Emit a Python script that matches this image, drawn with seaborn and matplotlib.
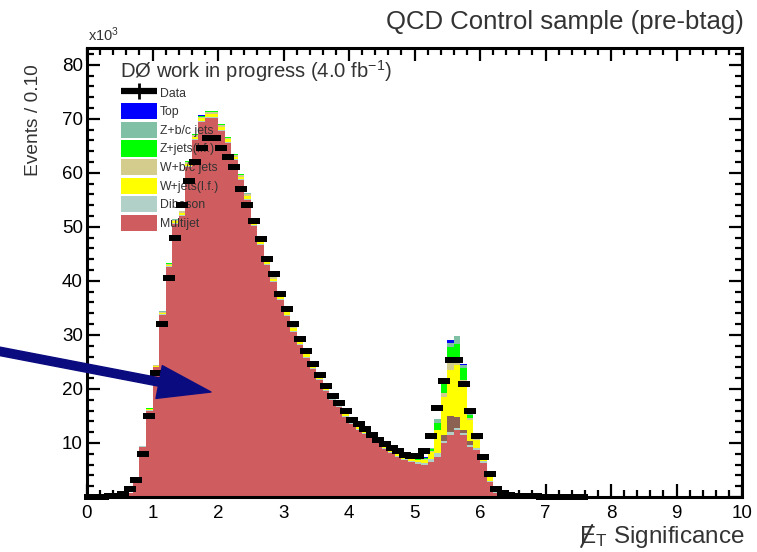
import numpy as np
import pandas as pd
import matplotlib
matplotlib.use("Agg")
import matplotlib.pyplot as plt
from matplotlib.patches import Rectangle
from matplotlib.lines import Line2D
from matplotlib.ticker import MultipleLocator
import seaborn as sns

# ---------------- data (values in units of 10^3 events per 0.1 bin) ----------------
# MC stacks: bins 0.0 .. 6.3 (64 bins of width 0.1)
mc_edges = [round(0.1 * i, 2) for i in range(65)]

multijet = [0, 0, 0, 0, 0.05, 0.2, 0.8, 2.6, 9.3, 16.0,
            24.0, 33.7, 42.6, 50.5, 52.0, 61.0, 66.0, 69.4, 70.2, 70.2,
            67.8, 65.5, 62.3, 58.6, 55.0, 50.2, 46.7, 43.0, 39.7, 36.5,
            33.5, 30.6, 28.2, 25.8, 23.7, 21.6, 19.6, 18.0, 16.6, 14.8,
            13.6, 12.4, 11.7, 10.9, 10.0, 8.9, 8.1, 7.4, 6.9, 6.5,
            6.1, 5.9, 6.5, 7.4, 10.0, 11.5, 12.4, 11.5, 9.3, 8.7,
            6.3, 2.8, 0.8, 0.2]
diboson = [0, 0, 0, 0, 0, 0, 0, 0, 0.05, 0.1,
           0.1, 0.1, 0.1, 0.2, 0.2, 0.2, 0.2, 0.2, 0.2, 0.2,
           0.2, 0.2, 0.2, 0.2, 0.2, 0.2, 0.2, 0.2, 0.2, 0.2,
           0.2, 0.2, 0.2, 0.2, 0.2, 0.2, 0.2, 0.2, 0.2, 0.2,
           0.2, 0.2, 0.2, 0.2, 0.2, 0.2, 0.2, 0.2, 0.2, 0.2,
           0.3, 0.4, 0.5, 0.7, 0.3, 0.5, 0.4, 0.4, 0.4, 0.3,
           0.3, 0.2, 0.1, 0]
mixed = [0, 0, 0, 0, 0, 0, 0, 0, 0, 0,
         0, 0, 0, 0, 0, 0, 0, 0, 0, 0,
         0, 0, 0, 0, 0, 0, 0, 0, 0, 0,
         0, 0, 0, 0, 0, 0, 0, 0, 0, 0,
         0, 0, 0, 0, 0, 0, 0, 0, 0, 0,
         0, 0, 0, 0, 1.2, 3.0, 2.0, 0.5, 0.6, 0,
         0, 0, 0, 0]
w_lf = [0, 0, 0, 0, 0, 0, 0.02, 0.05, 0.1, 0.15,
        0.2, 0.25, 0.3, 0.35, 0.4, 0.45, 0.5, 0.5, 0.5, 0.5,
        0.5, 0.5, 0.5, 0.5, 0.5, 0.5, 0.5, 0.5, 0.5, 0.45,
        0.45, 0.45, 0.4, 0.4, 0.4, 0.4, 0.4, 0.4, 0.4, 0.4,
        0.4, 0.4, 0.4, 0.4, 0.4, 0.4, 0.4, 0.4, 0.4, 0.4,
        0.4, 0.6, 1.3, 4.3, 7.1, 8.5, 9.7, 8.5, 4.0, 1.5,
        0.6, 0.8, 0.3, 0.1]
w_bc = [0, 0, 0, 0, 0, 0, 0, 0.02, 0.05, 0.1,
        0.1, 0.15, 0.2, 0.2, 0.25, 0.3, 0.3, 0.3, 0.3, 0.4,
        0.4, 0.3, 0.3, 0.3, 0.3, 0.3, 0.3, 0.3, 0.3, 0.3,
        0.3, 0.3, 0.3, 0.3, 0.2, 0.2, 0.2, 0.2, 0.2, 0.2,
        0.2, 0.2, 0.2, 0.2, 0.2, 0.2, 0.2, 0.2, 0.2, 0.2,
        0.1, 0.1, 0.2, 0.0, 0.6, 1.3, 0.9, 0.8, 0.4, 0.2,
        0.1, 0.1, 0, 0]
z_lf = [0, 0, 0, 0, 0, 0, 0, 0, 0.02, 0.05,
        0.05, 0.1, 0.1, 0.1, 0.1, 0.15, 0.15, 0.15, 0.15, 0.15,
        0.15, 0.15, 0.15, 0.15, 0.15, 0.15, 0.15, 0.15, 0.15, 0.15,
        0.15, 0.15, 0.15, 0.15, 0.15, 0.15, 0.15, 0.15, 0.15, 0.15,
        0.15, 0.15, 0.15, 0.15, 0.15, 0.15, 0.15, 0.15, 0.15, 0.2,
        0.2, 0.2, 0.3, 1.3, 1.8, 3.0, 3.0, 2.2, 0.5, 0.6,
        0.3, 0.3, 0, 0]
z_bc = [0, 0, 0, 0, 0, 0, 0, 0, 0, 0.02,
        0.02, 0.05, 0.05, 0.05, 0.05, 0.05, 0.05, 0.05, 0.05, 0.05,
        0.05, 0.05, 0.05, 0.05, 0.05, 0.05, 0.05, 0.05, 0.05, 0.05,
        0.05, 0.05, 0.05, 0.05, 0.05, 0.05, 0.05, 0.05, 0.05, 0.05,
        0.05, 0.05, 0.05, 0.05, 0.05, 0.05, 0.05, 0.05, 0.05, 0.1,
        0.1, 0.1, 0.2, 0.7, 0.2, 0.7, 1.4, 0.6, 0.2, 0.1,
        0.1, 0, 0, 0]
top = [0, 0, 0, 0, 0, 0, 0, 0, 0, 0,
       0, 0, 0, 0, 0, 0, 0.02, 0.02, 0.02, 0.02,
       0.02, 0.02, 0.02, 0.02, 0.02, 0.02, 0.02, 0.02, 0.02, 0.02,
       0.02, 0.02, 0.02, 0.02, 0.02, 0.02, 0.02, 0.02, 0.02, 0.02,
       0.02, 0.02, 0.02, 0.02, 0.02, 0.02, 0.02, 0.02, 0.02, 0.02,
       0.02, 0.02, 0.02, 0.1, 0.1, 0.5, 0.0, 0.1, 0, 0,
       0, 0, 0, 0]

# Data: bins 0.0 .. 7.5
data_lo = np.round(np.arange(0, 76) * 0.1, 2)
data = [0, 0.02, 0.05, 0.1, 0.2, 0.5, 1.5, 3.2, 8.0, 15.0,
        23.0, 32.0, 40.5, 48.0, 54.0, 58.5, 62.0, 64.5, 66.5, 66.5,
        64.5, 63.0, 61.0, 57.0, 54.0, 51.0, 47.7, 44.0, 41.3, 37.5,
        34.8, 32.0, 29.2, 27.0, 24.6, 22.5, 20.5, 18.7, 17.4, 16.0,
        14.3, 13.5, 12.5, 11.5, 10.5, 9.8, 9.0, 8.5, 7.8, 7.5,
        7.5, 8.5, 11.3, 16.5, 21.5, 25.4, 25.4, 21.0, 16.0, 11.3,
        7.4, 4.3, 1.5, 0.8, 0.4, 0.2, 0.15, 0.1, 0.1, 0.08,
        0.05, 0.05, 0.03, 0.03, 0.02, 0.02]

labels = ["Top", "Z+b/c jets", "Z+jets(l.f.)", "W+b/c jets", "W+jets(l.f.)",
          "other", "Diboson", "Multijet"]
series = [top, z_bc, z_lf, w_bc, w_lf, mixed, diboson, multijet]
colors = ["#0000FF", "#80C0A4", "#00FF00", "#D4CC8C", "#FFFF00",
          "#8C6252", "#B0D0C8", "#CF5C5E"]

# ---------------- figure ----------------
sns.set_theme(style="ticks")
plt.rcParams["font.family"] = ["Liberation Sans", "DejaVu Sans"]
plt.rcParams["mathtext.fontset"] = "custom"
plt.rcParams["mathtext.rm"] = "Liberation Sans"
plt.rcParams["mathtext.it"] = "Liberation Sans:italic"

W, H = 757, 552
fig = plt.figure(figsize=(W / 100, H / 100), dpi=100)
ax = fig.add_axes([87 / W, 55 / H, 655 / W, 449 / H])

centers = np.array(mc_edges[:-1]) + 0.05
df = pd.DataFrame({
    "x": np.tile(centers, len(series)),
    "w": np.concatenate([np.asarray(s, float) for s in series]),
    "comp": np.repeat(labels, len(centers)),
})
sns.histplot(data=df, x="x", weights="w", hue="comp", hue_order=labels,
             palette=dict(zip(labels, colors)), multiple="stack",
             bins=mc_edges, element="step", fill=True, alpha=1,
             linewidth=0, legend=False, ax=ax)

dvals = np.asarray(data, float)
derr = np.sqrt(dvals * 1000) / 1000
rect = [(-2, -1), (2, -1), (2, 1), (-2, 1), (-2, -1)]
ax.errorbar(data_lo + 0.05, dvals, xerr=0.05, yerr=derr, fmt="none",
            ecolor="black", elinewidth=2.5, capsize=0, zorder=5,
            clip_on=False)
ax.plot(data_lo + 0.05, dvals, linestyle="none", marker=rect,
        markersize=8.4, markeredgewidth=0, color="black", zorder=6,
        clip_on=False)

ax.set_xlim(0, 10)
ax.set_ylim(0, 83.1)
ax.set_xlabel("")
ax.set_ylabel("")

ax.xaxis.set_major_locator(MultipleLocator(1))
ax.xaxis.set_minor_locator(MultipleLocator(0.2))
ax.yaxis.set_major_locator(MultipleLocator(10))
ax.yaxis.set_minor_locator(MultipleLocator(2))
ax.set_yticks(np.arange(0, 81, 10))
ax.set_yticklabels([""] + [str(v) for v in range(10, 81, 10)])
ax.tick_params(which="both", direction="in", top=True, right=True,
               colors="black", labelsize=13.5)
ax.tick_params(which="major", length=9.5, width=1.6)
ax.tick_params(which="minor", length=4.8, width=1.6)
ax.tick_params(axis="x", which="major", pad=6)
ax.tick_params(axis="y", which="major", pad=3)
for sp in ax.spines.values():
    sp.set_linewidth(2.2)
    sp.set_color("black")

# legend
data_handle = (Line2D([0], [0], color="black", lw=4.5, solid_capstyle="butt"),
               Line2D([0], [0], color="black", lw=0, marker="|",
                      markersize=11, markeredgewidth=2))
handles = [data_handle] + [Rectangle((0, 0), 1, 1, facecolor=c, edgecolor="none")
                           for l, c in zip(labels, colors) if l != "other"]
leg_labels = ["Data"] + [l for l in labels if l != "other"]
ax.legend(handles, leg_labels, loc="upper left",
          bbox_to_anchor=(0.052, 0.918), frameon=False, fontsize=8.8,
          handlelength=2.9, handleheight=1.65, labelspacing=0.2,
          handletextpad=0.25, borderpad=0, borderaxespad=0,
          labelcolor="#333333")

# texts
ax.text(0.050, 0.949, "DØ work in progress (4.0 fb$^{-1}$)",
        transform=ax.transAxes, fontsize=14.6, va="center", ha="left",
        color="#333333")
fig.text(744 / W, 1 - 22 / H, "QCD Control sample (pre-btag)",
         fontsize=18.5, ha="right", va="center", color="#333333")
fig.text(88 / W, 1 - 35 / H, r"x10$^{3}$", fontsize=10.5, ha="left",
         va="center", color="#333333")
fig.text(33 / W, 1 - 64 / H, "Events / 0.10", rotation=90, fontsize=13.8,
         ha="center", va="top", color="#333333")
xl = fig.text(745 / W, 1 - 537 / H, "E$_{\\mathregular{T}}$ Significance",
              fontsize=17.5, ha="right", va="center", color="#333333")

# slash through the E of the x label
fig.canvas.draw()
bb = xl.get_window_extent()
fig.add_artist(Line2D([(bb.x0 + 2) / W, (bb.x0 + 13) / W],
                      [(bb.y0 + 3) / H, (bb.y1 - 1) / H],
                      transform=fig.transFigure, color="#333333", lw=1.5))

# arrow
ax.annotate("", xy=(211 / W, 1 - 392 / H), xycoords="figure fraction",
            xytext=(-2 / W, 1 - 351 / H), textcoords="figure fraction",
            arrowprops=dict(arrowstyle="simple,head_length=1.9,head_width=1.2,tail_width=0.3",
                            color="#0B0B80", shrinkA=0, shrinkB=0,
                            mutation_scale=20),
            annotation_clip=False, zorder=10)

fig.savefig("out.png", dpi=100)
